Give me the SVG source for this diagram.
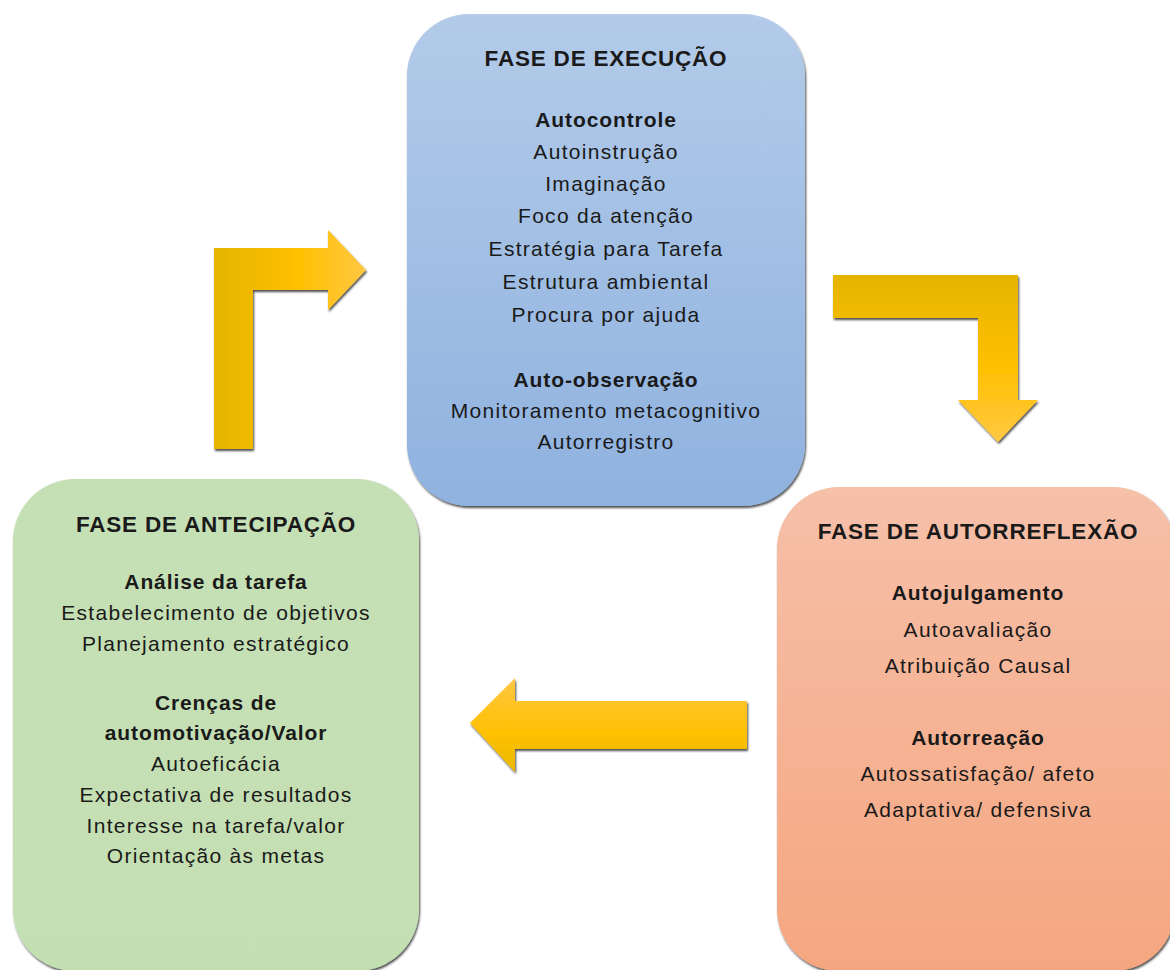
<svg xmlns="http://www.w3.org/2000/svg" width="1170" height="970" viewBox="0 0 1170 970">
<defs>
<linearGradient id="gBlue" x1="0" y1="0" x2="0" y2="1"><stop offset="0" stop-color="#b3cbe9"/><stop offset="1" stop-color="#8fb2df"/></linearGradient>
<linearGradient id="gGreen" x1="0" y1="0" x2="0" y2="1"><stop offset="0" stop-color="#c6e0b6"/><stop offset="1" stop-color="#c4dfb2"/></linearGradient>
<linearGradient id="gOrange" x1="0" y1="0" x2="0" y2="1"><stop offset="0" stop-color="#f6c0a9"/><stop offset="1" stop-color="#f5a680"/></linearGradient>
<linearGradient id="gArrH" x1="0" y1="0" x2="1" y2="0"><stop offset="0" stop-color="#e4b400"/><stop offset="0.55" stop-color="#ffc000"/><stop offset="1" stop-color="#ffc843"/></linearGradient>
<linearGradient id="gArrV" x1="0" y1="0" x2="0" y2="1"><stop offset="0" stop-color="#e4b400"/><stop offset="0.55" stop-color="#ffc000"/><stop offset="1" stop-color="#ffc843"/></linearGradient>
<linearGradient id="gArrL" x1="0" y1="0" x2="0" y2="1"><stop offset="0" stop-color="#ffc843"/><stop offset="0.6" stop-color="#ffc000"/><stop offset="1" stop-color="#e8b800"/></linearGradient>
<filter id="sh" x="-5%" y="-5%" width="110%" height="110%"><feDropShadow dx="1" dy="2" stdDeviation="0.8" flood-color="#000" flood-opacity="0.7"/></filter>
</defs>
<style>
text{font-family:"Liberation Sans",Arial,sans-serif;fill:#1a1a1a;text-anchor:middle}
.t{font-size:22.5px;font-weight:bold;letter-spacing:0.8px}
.h{font-size:21px;font-weight:bold;letter-spacing:0.9px}
.b{font-size:21px;letter-spacing:1.3px}
</style>
<g id="connectors">
<path filter="url(#sh)" fill="url(#gArrH)" d="M214,449 L214,248 L328,248 L328,230 L366,270 L328,310 L328,290 L253,290 L253,449 Z"/>
<path filter="url(#sh)" fill="url(#gArrV)" d="M833,275 L1018,275 L1018,400 L1038,400 L998,442 L958,400 L978,400 L978,318 L833,318 Z"/>
<path filter="url(#sh)" fill="url(#gArrL)" d="M747,701 L515,701 L515,678 L470,723 L515,772 L515,749 L747,749 Z"/>
</g>
<g id="execucao">
<rect x="407" y="14" width="398" height="492" rx="62" fill="url(#gBlue)" filter="url(#sh)"/>
<text class="t" x="606" y="66">FASE DE EXECUÇÃO</text>
<text class="h" x="606" y="127">Autocontrole</text>
<text class="b" x="606" y="159">Autoinstrução</text>
<text class="b" x="606" y="191">Imaginação</text>
<text class="b" x="606" y="223">Foco da atenção</text>
<text class="b" x="606" y="256">Estratégia para Tarefa</text>
<text class="b" x="606" y="289">Estrutura ambiental</text>
<text class="b" x="606" y="322">Procura por ajuda</text>
<text class="h" x="606" y="387">Auto-observação</text>
<text class="b" x="606" y="418">Monitoramento metacognitivo</text>
<text class="b" x="606" y="449">Autorregistro</text>
</g>
<g id="antecipacao">
<rect x="13" y="479" width="406" height="492" rx="62" fill="url(#gGreen)" filter="url(#sh)"/>
<text class="t" x="216" y="532">FASE DE ANTECIPAÇÃO</text>
<text class="h" x="216" y="589">Análise da tarefa</text>
<text class="b" x="216" y="620">Estabelecimento de objetivos</text>
<text class="b" x="216" y="651">Planejamento estratégico</text>
<text class="h" x="216" y="710">Crenças de</text>
<text class="h" x="216" y="740">automotivação/Valor</text>
<text class="b" x="216" y="771">Autoeficácia</text>
<text class="b" x="216" y="802">Expectativa de resultados</text>
<text class="b" x="216" y="833">Interesse na tarefa/valor</text>
<text class="b" x="216" y="863">Orientação às metas</text>
</g>
<g id="autorreflexao">
<rect x="777" y="487" width="398" height="484" rx="62" fill="url(#gOrange)" filter="url(#sh)"/>
<text class="t" x="978" y="539">FASE DE AUTORREFLEXÃO</text>
<text class="h" x="978" y="600">Autojulgamento</text>
<text class="b" x="978" y="637">Autoavaliação</text>
<text class="b" x="978" y="673">Atribuição Causal</text>
<text class="h" x="978" y="745">Autorreação</text>
<text class="b" x="978" y="781">Autossatisfação/ afeto</text>
<text class="b" x="978" y="817">Adaptativa/ defensiva</text>
</g>
</svg>
